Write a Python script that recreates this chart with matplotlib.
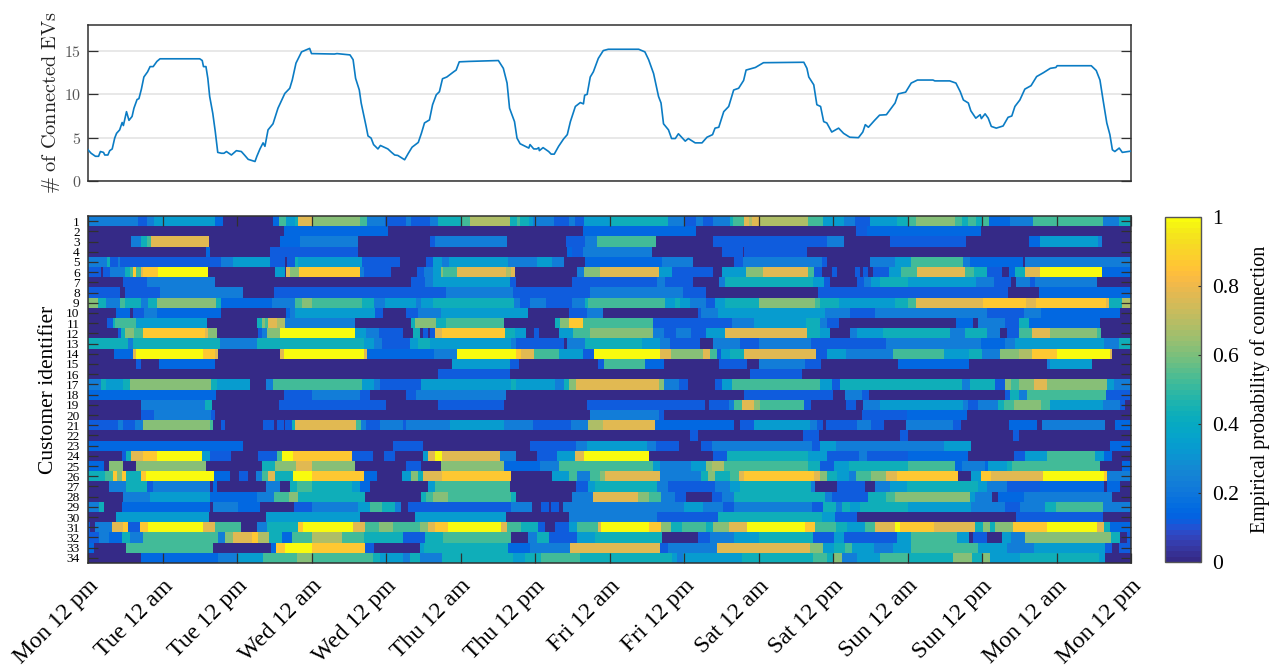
"""Connected EVs over one week and per-customer connection probability."""

import re

import matplotlib

matplotlib.use("Agg")
import matplotlib.pyplot as plt
import numpy as np
from matplotlib.colors import ListedColormap

WEEK_HOURS = 168

TIME_LABELS = [
    "Mon 12 pm", "Tue 12 am", "Tue 12 pm", "Wed 12 am", "Wed 12 pm",
    "Thu 12 am", "Thu 12 pm", "Fri 12 am", "Fri 12 pm", "Sat 12 am",
    "Sat 12 pm", "Sun 12 am", "Sun 12 pm", "Mon 12 am", "Mon 12 pm",
]

# hours since Monday noon, and fleet size
ev_hours = [
    0, .5, 1.2, 1.7, 2, 2.5, 2.7, 3.2, 3.5, 3.9, 4.3, 4.6, 5.1, 5.5, 5.7, 6.2, 6.6, 7.1, 7.4, 7.9,
    8.2, 8.6, 9, 9.6, 10, 10.5, 11.1, 11.6, 18, 18.4, 18.6, 19, 19.3, 19.6, 20.1, 20.5, 20.9, 21.5,
    21.9, 22.3, 23.1, 23.9, 24.7, 25.2, 25.8, 26.9, 27.2, 27.7, 28.2, 28.5, 29, 29.8, 30.6, 31.7,
    32.5, 32.9, 33.5, 34.4, 35.7, 36, 39.7, 40.1, 42.2, 42.7, 43.1, 43.7, 44, 44.8, 45.1, 45.6, 46,
    46.7, 47.1, 48.3, 48.9, 49.4, 49.9, 51, 51.6, 52.2, 53.2, 53.7, 54.2, 55, 55.5, 56.1, 56.6, 57.1,
    57.8, 58.9, 59.3, 59.8, 61.4, 66.1, 66.9, 67.5, 67.9, 68.7, 69.1, 69.6, 71, 71.2, 71.8, 72.3,
    72.6, 72.7, 73.3, 74.2, 74.6, 75.1, 75.8, 76.6, 77.2, 77.7, 78.5, 79.3, 79.8, 80, 80.4, 80.9,
    81.4, 82.2, 83, 83.8, 88.7, 89.7, 90.3, 91.1, 91.9, 92.3, 92.7, 93.5, 94, 94.6, 95.1, 96.2, 96.7,
    97.8, 98.9, 99.7, 100.6, 101, 101.6, 102.4, 103.2, 104, 104.8, 105.6, 106, 107.5, 108.8, 115.3,
    115.8, 116.1, 116.9, 117.4, 118, 118.5, 119, 119.8, 120.9, 121.7, 122.7, 124.1, 124.8, 125.2,
    125.7, 126.7, 127.5, 128.6, 130, 130.5, 131.7, 132.6, 133.6, 136.1, 136.4, 138.8, 139.8, 140.5,
    141, 141.8, 142.2, 143, 143.7, 143.9, 144.5, 145, 145.5, 146.3, 147.4, 148.2, 148.8, 149.3,
    150.1, 150.9, 151.9, 152.8, 153.9, 155, 155.9, 156.1, 161.6, 162.4, 163, 163.5, 164.1, 164.6,
    165, 165.4, 166.1, 166.6, 168,
]
ev_counts = [
    3.6, 3.2, 2.85, 2.85, 3.4, 3.3, 3, 3, 3.5, 3.7, 4.95, 5.5, 5.9, 6.75, 6.4, 8, 7, 7.45, 8.4, 9.4,
    9.5, 10.6, 12, 12.6, 13.2, 13.2, 13.8, 14.1, 14.1, 13.9, 13.2, 13.2, 11.85, 9.75, 7.8, 5.7, 3.3, 3.2,
    3.2, 3.4, 3, 3.5, 3.4, 3, 2.5, 2.25, 2.85, 3.7, 4.4, 4, 5.9, 6.6, 8.4, 10.1,
    10.7, 11.65, 13.6, 14.9, 15.3, 14.7, 14.65, 14.7, 14.55, 14, 11.85, 10.5, 9, 6.3, 5.2, 4.95, 4.2,
    3.7, 4.1, 3.7, 3.3, 3, 2.95, 2.45, 3.2, 3.9, 4.45, 5.5, 6.7, 7.05, 8.8, 9.95, 10.3, 11.8,
    12, 12.6, 12.8, 13.75, 13.8, 13.9, 13, 11.3, 8.4, 6.85, 4.95, 4.3, 3.8, 4.2, 3.7, 3.7,
    3.85, 3.5, 3.85, 3.4, 3.1, 3.1, 4, 4.85, 5.35, 6.85, 8.6, 9.05, 8.9, 9.9, 10, 12,
    12.6, 14.15, 15.05, 15.2, 15.2, 14.9, 14, 12.4, 9.75, 9, 6.6, 5.9, 4.9, 4.9, 5.45, 4.6, 4.9,
    4.4, 4.4, 5.05, 5.35, 6.1, 6.2, 8, 8.6, 10.5, 10.7, 11.6, 12.8, 13.1, 13.65, 13.7,
    13, 12, 11.1, 8.8, 8.6, 6.85, 6.7, 5.65, 6.1, 5.5, 5.05, 5, 5.65, 6.5,
    6.2, 7, 7.6, 7.65, 9, 10.05, 10.25, 11.3, 11.65, 11.65, 11.55, 11.55, 11.3, 10.3,
    9.35, 9, 8.1, 7.25, 7.65, 7.2, 7.75, 7.25, 6.3, 6.1, 6.35, 7.35, 7.5, 8.6,
    9.35, 10.6, 11, 12.05, 12.5, 13, 13.1, 13.3, 13.3, 12.75, 11.65, 9.35, 6.7, 5.35,
    3.6, 3.4, 3.8, 3.3, 3.45,
]

# probability levels seen in the picture, one letter each
prob_levels = {
    "p": 0.0, "b": 0.12, "B": 0.15, "l": 0.22, "c": 0.33, "t": 0.43,
    "g": 0.53, "G": 0.62, "o": 0.68, "T": 0.77, "O": 0.86, "Y": 1.0,
}

# one string per customer: level letter + hour at which that level ends
customer_runs = [
    "l8.1 b9.5 l10.6 c20.5 B21.7 p29.8 B30.7 g31.9 c33.3 t33.8 T36 G43.8 g44.9 l47.9 b51.3 l52.1 b55.1 l56.3 t60 g61.5 o67.9 t69.1 g69.6 t71.1 c71.7 l75 b77.4 l78.4 b79.9 c84.1 t93.5 l96.2 b98 l99.1 b100.7 l103.4 t103.9 g105.6 T106.4 o106.9 T108 o116 g118.4 c121.7 l123.5 b126 c130.3 t132 g133.4 G139.7 g140.7 t141.8 g143.1 t144.2 g145.2 B148.5 l152.2 g163.5 l166 t168",
    "p31.6 B48.4 p79.7 B98 p123.7 b125.4 B143.8 p168",
    "p7 l8.5 t9.5 g10.1 T19.5 p31 B34.2 l43.5 p55.1 b55.9 l67.5 p77 b80 l82 g91.5 p100.6 b119 l121.8 p129.2 b141.4 p151.6 B153.3 c162.7 l163.4 p168",
    "p19 B19.7 p29.3 b43.5 p77.2 B78 b79.7 l90.8 p102.2 b105.5 p105.7 b115.8 p168",
    "l3.1 t3.5 b4.9 l5.2 b21.5 l23.4 c29.3 b31.7 p32.1 b33.3 t33.8 c44.1 b50.3 p54.4 b55.5 c57.1 l58.1 c67.7 l72.3 c74.7 l76.7 p80 B92.4 l97.5 p104.1 b105.5 l118.2 b119 p125.9 l130 c132.5 g141 l142.1 B150.6 p151 l168",
    "b2.1 p2.4 b3.5 l6 t6.8 g7.3 O7.7 g8.6 T8.9 O11.3 Y19.4 p30.1 c31.7 p31.9 T32.5 G34 O43.8 l44.5 b48.8 p53 b54.1 l55.6 c56.8 G57.2 g59.5 T67.4 o68.2 T68.8 p78.8 l79.9 G82.4 T91.9 c94 b100.6 p102.1 c106 G108.8 T116 g117 b118.2 p119.8 b120.7 p123.5 b124.3 p124.9 b125.7 p126.4 b129.1 c131 g133.5 T141.3 g142.7 t144.8 b147.2 p148.4 B149.3 t151 T153.3 Y163.3 B168",
    "p5.7 b9.5 l20.5 p52.1 b54.3 l55.6 c67.9 b69 p78 b91.7 l93 b97.4 p101.7 l102.6 t116.8 c118.6 b119.5 p123.8 b125 l126.2 c127.6 t132 c143 l146 b148.6 p149.5 l151.7 b152.6 l162.5 p168",
    "b5.2 p6 b11.6 l25 p29.9 b57.7 l68.5 b80.9 l95.9 b99.5 p117.6 b148.2 p153.2 B168",
    "G1.6 t2.9 l5.2 g6 t8.5 l9.6 t11.1 G20.6 t21.5 B29.6 l33.3 g34.4 G36 g44.1 t46 l47.9 c52.9 l53.7 c55.6 t68.6 l69.6 b71.2 l73.7 b77.9 l80 t80.6 g92.9 c94.5 t95.4 c97 l99.6 b101 c102.6 t108 G117.1 g117.9 t121 c130 t132 g133.3 T144.2 O151.1 T152.7 O164 T164.5 t166.5 o168",
    "p4.5 B6.8 p7.2 b9 l11.1 B21.5 p31.9 B32.6 l33.3 c46.2 b47.5 p51.3 b53.2 l56.8 c70.9 p77.5 b80.3 l83 p98.3 b98.7 l101.5 c118.7 l122.7 b126.8 l144.8 b150.8 l153.5 B166.2 p168",
    "p3.1 b4 t4.4 g7.8 c19.1 p27.2 t28 G28.5 g29 T30.5 o31.8 l43 p52 t52.7 G56 t57.7 g67 p75.2 t76 G77.4 O79.7 g91 b103.8 l107.3 c115.6 t117.9 l119 b120.9 p139.8 B142.6 p143.4 l147.7 b149.9 t151.5 B163 p168",
    "p4.8 b5.3 t6 G7.4 g8.8 O18.8 T19.3 G20.8 p27.4 b28 l28.8 G30.9 Y43 c44.8 l46.9 b50.7 p52.4 t53.4 p54 b54.8 p55.1 b55.9 T57.1 O67.2 t68.8 c70.5 p71.8 b72.6 p75.9 c78.2 g80.8 G91 l92.7 b94.7 l97.2 b99.6 c102.6 T115.8 t117.9 c119.5 p122.7 l123.9 c128.1 t138.8 l141.2 t144.8 l146.9 p148.1 b149.9 g152 T155 G162.5 g163.1 p168",
    "t6.5 l7.3 t21.3 l27.3 t44.4 c46.1 l47.4 b51.8 c53.2 t55.1 c68.2 l69 b76.6 p77.1 l80 t89.2 c92.1 l93.7 b98.6 p100.7 l105.1 b108.1 l116.4 b128.5 l143.8 B147.7 l149.3 c163.6 l166.1 t168",
    "p4.2 B7.2 T7.7 Y18.5 O20.5 T21 p31 T31.5 Y44.4 T45 B55.7 l59.4 Y68.9 O69.8 T71.8 g75.8 c79.7 b81.5 Y92.2 T93.9 G99.1 T100.2 g101.3 b101.9 c103.4 t105.7 T117.3 b119.1 c122.1 l129.7 g137.8 c141.9 t144 l146.9 G149.9 o152.1 O156 Y164.6 T164.9 p168",
    "p7.7 b8.5 p11.5 B20.4 p58.6 c67.9 b69.4 p82.2 b83.1 g89.7 B92.8 p101.7 b106.2 p108.1 l115.5 b118.1 p130.4 B141.9 p154.4 l155 c161.7 p168",
    "p56.3 b67.9 p106.6 b115 p168",
    "l2.1 t2.9 c5.7 t6.8 G19.8 t20.8 c26.1 p28.7 l29.8 g44.1 c46.1 l47 b53.6 c68.2 t69 c75.2 l76.6 t77.4 G78.6 T91.9 G92.7 l95.2 b96.7 p101 b102.1 c103.8 g117.9 c119.8 b121.2 t140.7 l142.1 t146.1 b147.7 G148.6 g149.9 G152.3 T154.4 G164.2 c165.3 l168",
    "B20.6 p31.5 b36 l43.8 b45.4 p51.3 b52.9 l67.4 p105.6 b120 p122 l124.6 b125.8 p147.7 b148.5 t149.9 l151.3 g164 b168",
    "p8.5 l18.8 t19.9 p30.7 b48 p56.3 b67 p80.3 b99.4 p100 b103.2 l104 g105.3 T107.2 G108.2 g115.4 b116.4 p122.1 b123.7 p124.9 l127.6 c141 l141.8 b143.4 l146.6 t147.5 g149.2 G153.5 g154.9 c163.5 l166.2 b167 p168",
    "p8.6 b10.7 l19.8 b20.5 p80.8 l91.9 b92.8 p124.6 b131.9 B141.6 p168",
    "b4.8 l5.6 b7.6 l8.8 G19.7 g20.2 p21.5 b22 p28.2 b30 p30.4 b31.5 p31.8 b32.8 t33.3 T43.2 g44 l44.8 b47.1 l50.8 b51.2 l58.3 c67 l71.6 b77.8 l80.6 o83 T91.4 B104 p105 b107.3 c116.3 l117.4 b118.4 p118.8 b123.8 l126.1 b128.2 p131.8 l139.3 b140.6 p148.3 B152.8 p153.6 l163.8 p165.5 B168",
    "p96.9 b98.2 p115.1 b117.8 p130.8 b132 p149 b150 p168",
    "B24.9 p49.2 b53.9 p71.2 b78.6 l80.3 c90.1 l91.5 b95.2 p98.7 b100.5 l116.6 b117.9 c120.5 l137.9 c142.2 p164.6 B168",
    "p5.5 b6.2 t7 T8.9 O11.1 Y18.4 c19.7 b23 p27.4 b30.5 g31.3 Y33 O42.5 b45.9 p47.7 b49.5 p53.9 c54.8 T55.9 Y57 T66.3 l69 p72.3 b75.5 c78.4 T79.9 Y90.3 p100.7 b102.9 t116 c119 b124.2 l125.4 b132 B141.8 p149.2 b151 c154.5 g162.2 c163.6 B164.9 p168",
    "B2.6 p3.4 G5.7 p7.8 G19 p28.1 t30.1 G33.5 T36 G43 p51.3 b53.7 p56.8 G67 B72.8 l75.9 g91 c92.1 l97.2 c99.6 G100.5 o102.5 g116 t117.9 b120.1 c122.5 t132 g139.7 B140.7 l144.5 B145 c148 t148.8 g163 p166.5 B168",
    "t2.7 g4 O4.7 G5.4 O6.2 t8.6 O9.3 Y20.3 B22.8 p24.4 b25.7 p27 l28 g29 T30.1 t33.1 Y36 O44.4 B46.5 p50.5 c52 G53.2 t54 T57.1 O68.2 p74.8 c77.5 g78.7 l80.9 g82.5 G83.3 T92.2 l98.8 t99.9 G101 t103.4 g104.8 T105.6 O117 T117.9 G119.1 t120.6 c122.5 l123.7 g126.2 G128.6 T130.3 O140.1 p142.3 c143.8 O145.4 T153.9 Y163.7 O164.1 l168",
    "p3.4 l6.2 t9.5 b10.5 l19.7 p20.2 B20.8 p28.7 l30.9 p32.6 t33.6 g36 t42.5 c43.8 B45.5 p54.8 c55.9 g67.9 p78.6 b80.6 c81.7 t91.6 l93.4 b101 l103.4 c105 t116.4 l117.1 p120.6 b125.2 p126.8 l129.2 c131.9 t143.4 c144.8 l148 b153.3 B163.7 p164.1 B166.2 p168",
    "p5.7 l10 c19.7 B27.2 l29.9 g32.3 G33.9 t44.6 p53.7 t54.4 g55.6 G58 g68.2 t69 p78 l81.4 T88.6 G90.3 g92.3 l94.6 b96.4 p100.5 b102.1 l104 t118.7 l119.8 b125.7 t128.6 g130 G142 c142.9 l145.6 p146.6 B150.7 l164.9 p168",
    "l1.7 t2.6 p5.4 B19.7 p20.2 l24.2 B27.7 p33.2 b36 l43.5 c45.4 g47.3 t49.5 l50.4 p51.6 b68.1 l71.5 p73 b74.2 p74.5 b75.9 p76.5 l96 c99.1 l102.3 b104 l116.6 b118.4 t120.5 l121.4 t122.7 c124.3 t132 c142.3 l147.7 b150.1 l154.1 t155.9 g163.5 l168",
    "p4.5 c19.5 p28.7 c43.8 p52.7 c67.4 p77.4 l91.6 b101.5 t118.2 c120.3 b123.9 p149.5 b163.5 p168",
    "b.3 p1.2 l3.8 T5.7 O6.5 b8.4 O9.7 Y18.6 T20.5 g24.6 p27.3 l28.8 t33.9 O34.7 Y42.7 T44.6 g46.8 G49.2 g53.5 G54.8 T55.9 O58 Y66.5 T67.5 g69.7 t72.5 b73.6 p75.3 b77.4 c78.8 g82.1 T82.7 Y90.4 O92.3 G93.9 t95.6 g99.5 t100.6 G103.3 T106.1 Y115.5 O117.1 g120.5 t122.3 c125.2 g126.8 T130 Y130.8 O136.3 T142.9 t144.2 G145.3 t146.1 G149 O154.5 Y162.5 T163.6 t164.6 B168",
    "b1.8 l3.4 B5.4 t6.8 l8.8 g21 l22.1 G23.4 T26.4 O27.4 o29.2 t31.2 B32.8 g36 o40.9 g44.4 t50.8 b54.3 t57.2 g68.2 p70.9 l72.3 t74.2 b78.7 c81.7 t92.4 p98.2 b100.2 l104 c108 t116.8 b120.1 c121.8 b130.3 c132.5 g139.9 c141.9 p142.6 b144.8 p147.3 c148.6 l151 G164.7 t166.2 p167.3 b168",
    "B.9 p6.2 g20.1 p29.4 B30.3 O31.7 Y36 O44.6 b46 p53.4 c54.1 t67.7 B71.2 l77.7 T92.2 b93.5 l101.3 T116.3 G118.4 c120.2 t122 g123 c126.6 l129.7 c132.5 g143.4 c148.1 l152.4 c163.8 b164.9 p166.1 b168",
    "p8.5 B21 l24.1 c28.2 g33.6 G36 g45.9 t47 c50.8 l51.9 t53.5 l57 t68.5 c70.4 t73 g79.2 t94 c94.8 l95.9 c105.3 t116.8 g119.1 t120.1 G121.4 l123.9 c127.6 g132 t139.4 G142.4 t144 G145.3 c150.1 t162.9 c163.8 p168",
]

# MATLAB parula
parula_rgb = [
    [.2081, .1663, .5292], [.2116, .1898, .5777], [.2123, .2138, .6270], [.2081, .2386, .6771],
    [.1959, .2645, .7279], [.1707, .2919, .7792], [.1253, .3242, .8303], [.0591, .3598, .8683],
    [.0117, .3875, .8820], [.0060, .4086, .8828], [.0165, .4266, .8786], [.0329, .4430, .8720],
    [.0498, .4586, .8641], [.0629, .4737, .8554], [.0723, .4887, .8467], [.0779, .5040, .8384],
    [.0793, .5200, .8312], [.0749, .5375, .8263], [.0641, .5570, .8240], [.0488, .5772, .8228],
    [.0343, .5966, .8199], [.0265, .6137, .8135], [.0239, .6287, .8038], [.0231, .6418, .7913],
    [.0228, .6535, .7768], [.0267, .6642, .7607], [.0384, .6743, .7436], [.0590, .6838, .7254],
    [.0843, .6928, .7062], [.1133, .7015, .6859], [.1453, .7098, .6646], [.1801, .7177, .6424],
    [.2178, .7250, .6193], [.2586, .7317, .5954], [.3022, .7376, .5712], [.3482, .7424, .5473],
    [.3953, .7459, .5244], [.4420, .7481, .5033], [.4871, .7491, .4840], [.5300, .7491, .4661],
    [.5709, .7485, .4494], [.6099, .7473, .4337], [.6473, .7456, .4188], [.6834, .7435, .4044],
    [.7184, .7411, .3905], [.7525, .7384, .3768], [.7858, .7356, .3633], [.8185, .7327, .3498],
    [.8507, .7299, .3360], [.8824, .7274, .3217], [.9139, .7258, .3063], [.9450, .7261, .2886],
    [.9739, .7314, .2666], [.9938, .7455, .2403], [.9990, .7653, .2164], [.9955, .7861, .1967],
    [.9880, .8066, .1794], [.9789, .8271, .1633], [.9697, .8481, .1475], [.9626, .8705, .1309],
    [.9589, .8949, .1132], [.9598, .9218, .0948], [.9661, .9514, .0755], [.9763, .9831, .0538],
]


def runs_to_row(runs, edges):
    """Expand a run string onto the time grid."""
    tokens = re.findall(r"([a-zA-Z])([\d.]+)", runs)
    ends = np.array([float(t[1]) for t in tokens])
    values = np.array([prob_levels[t[0]] for t in tokens])
    centers = (edges[:-1] + edges[1:]) / 2
    return values[np.minimum(np.searchsorted(ends, centers), len(values) - 1)]


def main():
    plt.rcParams["font.family"] = ["Liberation Serif", "DejaVu Serif"]
    plt.rcParams["mathtext.fontset"] = "cm"
    parula = ListedColormap(parula_rgb)
    edge_color = "#303030"
    width, height = 1271, 671

    fig = plt.figure(figsize=(width / 100, height / 100), dpi=100)

    ax_top = fig.add_axes([88 / width, 1 - 181 / height, 1043 / width, 156 / height])
    ax_top.plot(ev_hours, ev_counts, color="#0b7cc4", lw=1.2, zorder=3)
    ax_top.set_xlim(0, WEEK_HOURS)
    ax_top.set_ylim(0, 18)
    ax_top.set_xticks([])
    ax_top.set_yticks([0, 5, 10, 15])
    ax_top.set_yticklabels(
        [rf"$\mathrm{{{v}}}$" for v in (0, 5, 10, 15)], fontsize=11.5, color="#555555"
    )
    ax_top.grid(True, axis="y", color="#e2e2e2", lw=1.1)
    ax_top.set_axisbelow(True)
    ax_top.tick_params(axis="y", direction="in", length=7.5, width=0.9, color=edge_color, right=True, pad=5)
    ax_top.set_ylabel(r"$\#\ \mathrm{of\ Connected\ EVs}$", fontsize=14.6, labelpad=1, color="#222222")

    edges = np.arange(0, WEEK_HOURS + 0.05, 0.1)
    matrix = np.array([runs_to_row(r, edges) for r in customer_runs])
    row_edges = np.arange(len(customer_runs) + 1) + 0.5

    ax_map = fig.add_axes([88 / width, 1 - 563 / height, 1043 / width, 347 / height])
    mesh = ax_map.pcolormesh(edges, row_edges, matrix, cmap=parula, vmin=0, vmax=1, rasterized=True)
    ax_map.set_ylim(row_edges[-1], row_edges[0])
    ax_map.set_xlim(0, WEEK_HOURS)
    ax_map.set_yticks(np.arange(1, len(customer_runs) + 1))
    ax_map.set_yticklabels(np.arange(1, len(customer_runs) + 1), fontsize=9.6)
    ax_map.set_xticks(np.arange(len(TIME_LABELS)) * 12)
    ax_map.set_xticklabels(TIME_LABELS, fontsize=17, rotation=45, ha="right", rotation_mode="anchor")
    ax_map.tick_params(axis="both", direction="in", length=7.5, width=0.9, color=edge_color, right=True, top=True)
    ax_map.tick_params(axis="y", pad=6)
    ax_map.tick_params(axis="x", pad=9)
    ax_map.set_ylabel("Customer identifier", fontsize=15.5, labelpad=6)

    for ax in (ax_top, ax_map):
        for spine in ax.spines.values():
            spine.set_color(edge_color)
            spine.set_linewidth(1.1)

    cax = fig.add_axes([1165 / width, 1 - 562 / height, 36 / width, 345 / height])
    cbar = fig.colorbar(mesh, cax=cax)
    cbar.set_ticks([0, 0.2, 0.4, 0.6, 0.8, 1])
    cbar.set_ticklabels(["0", "0.2", "0.4", "0.6", "0.8", "1"])
    cbar.ax.tick_params(direction="in", length=2.5, width=0.8, color=edge_color, labelsize=15.5, pad=8)
    cbar.outline.set_edgecolor("#555555")
    cbar.outline.set_linewidth(1.0)
    cbar.set_label("Empirical probability of connection", fontsize=14.5, labelpad=8)

    fig.savefig("out.png", dpi=100)
    plt.close(fig)


if __name__ == "__main__":
    main()
